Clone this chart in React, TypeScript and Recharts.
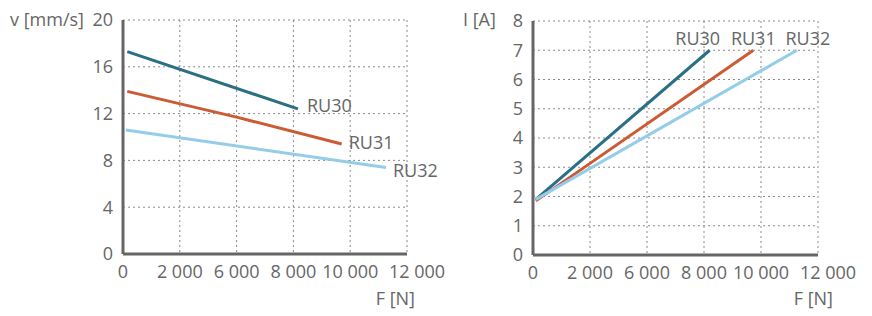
import { LineChart, Line, XAxis, YAxis, CartesianGrid, LabelList } from 'recharts'

const forceTicks = [0, 2000, 4000, 6000, 8000, 10000]
const forceTickLabels = ['0', '2 000', '6 000', '8 000', '10 000', '12 000']
const speedTicks = [0, 4, 8, 12, 16, 20]
const currentTicks = [0, 1, 2, 3, 4, 5, 6, 7, 8]
const seriesNames = ['RU30', 'RU31', 'RU32']

const speedRU30 = [
  { f: 150, v: 17.3 },
  { f: 6160, v: 12.4 },
]
const speedRU31 = [
  { f: 150, v: 13.9 },
  { f: 4000, v: 11.7 },
  { f: 7700, v: 9.4 },
]
const speedRU32 = [
  { f: 100, v: 10.6 },
  { f: 9260, v: 7.4 },
]

const currentRU30 = [
  { f: 100, i: 1.9 },
  { f: 6200, i: 7 },
]
const currentRU31 = [
  { f: 100, i: 1.85 },
  { f: 7730, i: 7 },
]
const currentRU32 = [
  { f: 100, i: 1.9 },
  { f: 9260, i: 7 },
]

const COLORS = ['#2b6f86', '#cc5b34', '#95cce8']
const TEXT = '#666'
const AXIS = '#666'
const FONT = '"Open Sans", "Noto Sans", sans-serif'
const FS = 18

function ForceTick({ x, y, payload, index }: any) {
  const last = index === forceTicks.length - 1
  return (
    <text
      x={x + (last ? 10 : 0)}
      y={y + 9}
      dy="0.71em"
      textAnchor="middle"
      fill={TEXT}
      fontSize={FS}
      fontFamily={FONT}
    >
      {forceTickLabels[forceTicks.indexOf(payload.value)]}
    </text>
  )
}

function endLabel(name: string, count: number, dx: number, dy: number, anchor: string) {
  return (props: any) => {
    if (props.index !== count - 1) return null
    return (
      <text
        x={props.x + dx}
        y={props.y + dy}
        dy="0.35em"
        textAnchor={anchor}
        fill={TEXT}
        fontSize={FS}
        fontFamily={FONT}
      >
        {name}
      </text>
    )
  }
}

function axisTitle(text: string, dx: number) {
  return (props: any) => {
    const vb = props.viewBox
    return (
      <text x={vb.x + dx} y={20} dy="0.35em" fill={TEXT} fontSize={FS} fontFamily={FONT}>
        {text}
      </text>
    )
  }
}

function forceTitle(dx: number) {
  return (props: any) => {
    const vb = props.viewBox
    return (
      <text
        x={vb.x + vb.width + dx}
        y={299}
        dy="0.35em"
        textAnchor="end"
        fill={TEXT}
        fontSize={FS}
        fontFamily={FONT}
      >
        F [N]
      </text>
    )
  }
}

const leftLabelOffsets = [
  [9, -3],
  [7, -1],
  [7, 3],
]
const rightLabelOffsets = [-12, 0, 11]

export default function App() {
  const speedSeries = [speedRU30, speedRU31, speedRU32]
  const currentSeries = [currentRU30, currentRU31, currentRU32]
  const tickStyle = { fontSize: FS, fill: TEXT, fontFamily: FONT }

  return (
    <div style={{ position: 'absolute', left: 0, top: 0, width: 872, height: 316, background: '#fff' }}>
      <div style={{ position: 'absolute', left: 0, top: 0 }}>
        <LineChart width={460} height={316} margin={{ top: 20, right: 53, left: 0, bottom: 32 }}>
          <CartesianGrid strokeDasharray="2 3" stroke="#8a8a8a" />
          <XAxis
            type="number"
            dataKey="f"
            domain={[0, 10000]}
            ticks={forceTicks}
            interval={0}
            height={30}
            tickLine={false}
            tickSize={0}
            axisLine={{ stroke: AXIS, strokeWidth: 3 }}
            tick={<ForceTick />}
            label={{ content: forceTitle(8) }}
          />
          <YAxis
            type="number"
            dataKey="v"
            domain={[0, 20]}
            ticks={speedTicks}
            interval={0}
            width={123}
            tickLine={false}
            tickSize={0}
            tickMargin={10}
            axisLine={{ stroke: AXIS, strokeWidth: 3 }}
            tick={tickStyle}
            label={{ content: axisTitle('v [mm/s]', 10) }}
          />
          {speedSeries.map((d, k) => (
            <Line
              key={seriesNames[k]}
              data={d}
              dataKey="v"
              stroke={COLORS[k]}
              strokeWidth={3}
              dot={false}
              isAnimationActive={false}
            >
              <LabelList
                dataKey="v"
                content={endLabel(seriesNames[k], d.length, leftLabelOffsets[k][0], leftLabelOffsets[k][1], 'start')}
              />
            </Line>
          ))}
        </LineChart>
      </div>
      <div style={{ position: 'absolute', left: 436, top: 0 }}>
        <LineChart width={436} height={316} margin={{ top: 21, right: 54, left: 0, bottom: 31 }}>
          <CartesianGrid strokeDasharray="2 3" stroke="#8a8a8a" />
          <XAxis
            type="number"
            dataKey="f"
            domain={[0, 10000]}
            ticks={forceTicks}
            interval={0}
            height={30}
            tickLine={false}
            tickSize={0}
            axisLine={{ stroke: AXIS, strokeWidth: 3 }}
            tick={<ForceTick />}
            label={{ content: forceTitle(15) }}
          />
          <YAxis
            type="number"
            dataKey="i"
            domain={[0, 8]}
            ticks={currentTicks}
            interval={0}
            width={97}
            tickLine={false}
            tickSize={0}
            tickMargin={10}
            axisLine={{ stroke: AXIS, strokeWidth: 3 }}
            tick={tickStyle}
            label={{ content: axisTitle('I [A]', 27) }}
          />
          {currentSeries.map((d, k) => (
            <Line
              key={seriesNames[k]}
              data={d}
              dataKey="i"
              stroke={COLORS[k]}
              strokeWidth={3}
              dot={false}
              isAnimationActive={false}
            >
              <LabelList
                dataKey="i"
                content={endLabel(seriesNames[k], d.length, rightLabelOffsets[k], -12, 'middle')}
              />
            </Line>
          ))}
        </LineChart>
      </div>
    </div>
  )
}
